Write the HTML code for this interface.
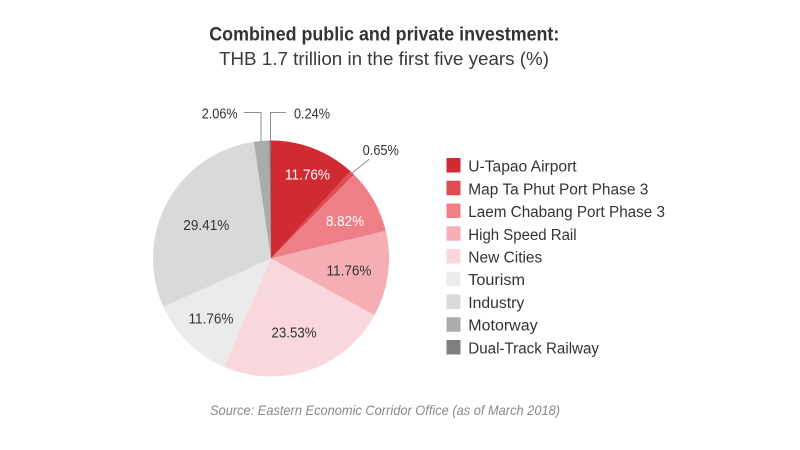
<!DOCTYPE html>
<html>
<head>
<meta charset="utf-8">
<style>
  html, body { margin:0; padding:0; background:#ffffff; }
  svg { display:block; }
  text { font-family: "Liberation Sans", Arial, sans-serif; }
</style>
</head>
<body>
<svg width="800" height="450" viewBox="0 0 800 450" xmlns="http://www.w3.org/2000/svg">
  <rect width="800" height="450" fill="#ffffff"/>

  <!-- Titles -->
  <text x="384.3" y="40.5" font-size="19" font-weight="bold" fill="#333333" text-anchor="middle" textLength="350" lengthAdjust="spacingAndGlyphs">Combined public and private investment:</text>
  <text x="384" y="65" font-size="18.5" fill="#3a3a3a" text-anchor="middle" textLength="330" lengthAdjust="spacingAndGlyphs">THB 1.7 trillion in the first five years (%)</text>

  <!-- Pie -->
  <g>
    <path d="M271,258.5 L271,140.5 A118,118 0 0 1 350.47,171.27 Z" fill="#d02a33"/>
    <path d="M271,258.5 L350.47,171.27 A118,118 0 0 1 353.97,174.59 Z" fill="#e14b56"/>
    <path d="M271,258.5 L353.97,174.59 A118,118 0 0 1 385.71,230.81 Z" fill="#ef7f87"/>
    <path d="M271,258.5 L385.71,230.81 A118,118 0 0 1 374.44,315.28 Z" fill="#f4aeb4"/>
    <path d="M271,258.5 L374.44,315.28 A118,118 0 0 1 224.00,366.74 Z" fill="#f9d8dd"/>
    <path d="M271,258.5 L224.00,366.74 A118,118 0 0 1 163.36,306.86 Z" fill="#ebebeb"/>
    <path d="M271,258.5 L163.36,306.86 A118,118 0 0 1 253.93,141.74 Z" fill="#d9d9d9"/>
    <path d="M271,258.5 L253.93,141.74 A118,118 0 0 1 269.15,140.51 Z" fill="#ababab"/>
    <path d="M271,258.5 L269.15,140.51 A118,118 0 0 1 271,140.5 Z" fill="#7f7f7f"/>
  </g>

  <!-- Pie labels -->
  <g font-size="14.5" text-anchor="middle">
    <text x="307.5" y="179.5" fill="#ffffff" textLength="45" lengthAdjust="spacingAndGlyphs">11.76%</text>
    <text x="345" y="226" fill="#ffffff" textLength="38" lengthAdjust="spacingAndGlyphs">8.82%</text>
    <text x="349" y="275.3" fill="#333333" textLength="45" lengthAdjust="spacingAndGlyphs">11.76%</text>
    <text x="294" y="337.7" fill="#333333" textLength="45" lengthAdjust="spacingAndGlyphs">23.53%</text>
    <text x="211" y="323.3" fill="#333333" textLength="45" lengthAdjust="spacingAndGlyphs">11.76%</text>
    <text x="206.3" y="230" fill="#333333" textLength="46" lengthAdjust="spacingAndGlyphs">29.41%</text>
    <text x="219.7" y="118.3" fill="#333333" textLength="36" lengthAdjust="spacingAndGlyphs">2.06%</text>
    <text x="312" y="118.3" fill="#333333" textLength="36" lengthAdjust="spacingAndGlyphs">0.24%</text>
    <text x="380.8" y="155" fill="#333333" textLength="36.3" lengthAdjust="spacingAndGlyphs">0.65%</text>
  </g>

  <!-- Leader lines -->
  <g fill="none" stroke="#8c8c8c" stroke-width="1">
    <polyline points="244,112.5 261,112.5 261,141.5"/>
    <polyline points="286,112.5 270.5,112.5 270.5,141"/>
    <line x1="369.5" y1="159" x2="351.5" y2="173.5"/>
  </g>

  <!-- Legend -->
  <g font-size="15.5" fill="#333333">
    <rect x="446.5" y="158" width="14" height="14.5" fill="#d02a33"/>
    <text x="468.3" y="171.7" textLength="108.3" lengthAdjust="spacingAndGlyphs">U-Tapao Airport</text>

    <rect x="446.5" y="180.75" width="14" height="14.5" fill="#e14b56"/>
    <text x="468.3" y="194.4" textLength="180" lengthAdjust="spacingAndGlyphs">Map Ta Phut Port Phase 3</text>

    <rect x="446.5" y="203.5" width="14" height="14.5" fill="#ef7f87"/>
    <text x="468.3" y="217.1" textLength="196.7" lengthAdjust="spacingAndGlyphs">Laem Chabang Port Phase 3</text>

    <rect x="446.5" y="226.25" width="14" height="14.5" fill="#f4aeb4"/>
    <text x="468.3" y="239.8" textLength="108.3" lengthAdjust="spacingAndGlyphs">High Speed Rail</text>

    <rect x="446.5" y="249" width="14" height="14.5" fill="#f9d8dd"/>
    <text x="468.3" y="262.5" textLength="74" lengthAdjust="spacingAndGlyphs">New Cities</text>

    <rect x="446.5" y="271.75" width="14" height="14.5" fill="#ebebeb"/>
    <text x="468.3" y="285.2" textLength="56.7" lengthAdjust="spacingAndGlyphs">Tourism</text>

    <rect x="446.5" y="294.5" width="14" height="14.5" fill="#d9d9d9"/>
    <text x="468.3" y="307.9" textLength="56" lengthAdjust="spacingAndGlyphs">Industry</text>

    <rect x="446.5" y="317.25" width="14" height="14.5" fill="#ababab"/>
    <text x="468.3" y="330.6" textLength="69.3" lengthAdjust="spacingAndGlyphs">Motorway</text>

    <rect x="446.5" y="340" width="14" height="14.5" fill="#7f7f7f"/>
    <text x="468.3" y="353.3" textLength="130.7" lengthAdjust="spacingAndGlyphs">Dual-Track Railway</text>
  </g>

  <!-- Source -->
  <text x="385" y="415" font-size="14" font-style="italic" fill="#8a8a8a" text-anchor="middle" textLength="350" lengthAdjust="spacingAndGlyphs">Source: Eastern Economic Corridor Office (as of March 2018)</text>
</svg>
</body>
</html>
